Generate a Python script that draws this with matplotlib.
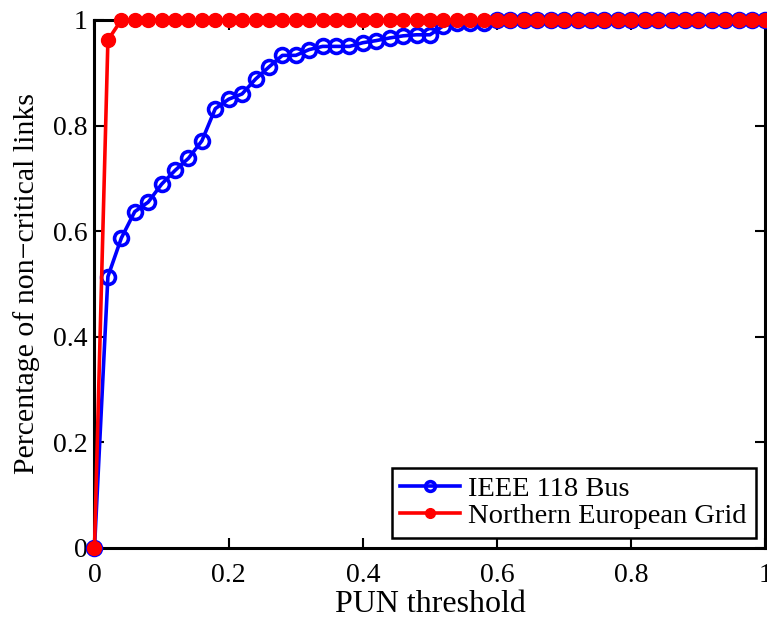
import matplotlib
matplotlib.use("Agg")
import matplotlib.pyplot as plt

# PUN threshold values
thresholds = [0.00, 0.02, 0.04, 0.06, 0.08, 0.10, 0.12, 0.14, 0.16, 0.18,
              0.20, 0.22, 0.24, 0.26, 0.28, 0.30, 0.32, 0.34, 0.36, 0.38,
              0.40, 0.42, 0.44, 0.46, 0.48, 0.50, 0.52, 0.54, 0.56, 0.58,
              0.60, 0.62, 0.64, 0.66, 0.68, 0.70, 0.72, 0.74, 0.76, 0.78,
              0.80, 0.82, 0.84, 0.86, 0.88, 0.90, 0.92, 0.94, 0.96, 0.98,
              1.00]

# Share of non-critical links, IEEE 118 bus system
ieee118 = [0.000, 0.514, 0.587, 0.637, 0.655, 0.689, 0.715, 0.738, 0.771, 0.832,
           0.850, 0.860, 0.888, 0.911, 0.933, 0.933, 0.944, 0.950, 0.950, 0.950,
           0.957, 0.961, 0.966, 0.970, 0.972, 0.972, 0.989, 0.994, 0.994, 0.994,
           1.0, 1.0, 1.0, 1.0, 1.0, 1.0, 1.0, 1.0, 1.0, 1.0,
           1.0, 1.0, 1.0, 1.0, 1.0, 1.0, 1.0, 1.0, 1.0, 1.0,
           1.0]

# Share of non-critical links, Northern European grid
nordic = [0.000, 0.962, 1.0, 1.0, 1.0, 1.0, 1.0, 1.0, 1.0, 1.0,
          1.0, 1.0, 1.0, 1.0, 1.0, 1.0, 1.0, 1.0, 1.0, 1.0,
          1.0, 1.0, 1.0, 1.0, 1.0, 1.0, 1.0, 1.0, 1.0, 1.0,
          1.0, 1.0, 1.0, 1.0, 1.0, 1.0, 1.0, 1.0, 1.0, 1.0,
          1.0, 1.0, 1.0, 1.0, 1.0, 1.0, 1.0, 1.0, 1.0, 1.0,
          1.0]

xticks = [0, 0.2, 0.4, 0.6, 0.8, 1]
xticklabels = ["0", "0.2", "0.4", "0.6", "0.8", "1"]
yticks = [0, 0.2, 0.4, 0.6, 0.8, 1]
yticklabels = ["0", "0.2", "0.4", "0.6", "0.8", "1"]

plt.rcParams["font.family"] = ["Liberation Serif", "DejaVu Serif"]

fig = plt.figure(figsize=(7.67, 6.21), dpi=100)
ax = fig.add_axes([0.1232, 0.1176, 0.8748, 0.8502])

ax.plot(thresholds, ieee118, color=(0, 0, 1), lw=2.6, marker="o",
        ms=10, mfc="none", mec=(0, 0, 1), mew=2.6, label="IEEE 118 Bus",
        clip_on=False, zorder=3)
ax.plot(thresholds, nordic, color=(1, 0, 0), lw=2.6, marker="o",
        ms=10, mfc=(1, 0, 0), mec=(1, 0, 0), mew=1,
        label="Northern European Grid", clip_on=False, zorder=4)

ax.set_xlim(0, 1)
ax.set_ylim(0, 1)
ax.set_xticks(xticks)
ax.set_xticklabels(xticklabels)
ax.set_yticks(yticks)
ax.set_yticklabels(yticklabels)

ax.tick_params(direction="in", length=7, width=1.5, labelsize=20,
               top=True, right=True)
ax.tick_params(axis="x", pad=11)
ax.tick_params(axis="y", pad=5)
for s in ax.spines.values():
    s.set_linewidth(2.2)

ax.set_xlabel("PUN threshold", fontsize=23, labelpad=1)
ax.set_ylabel("Percentage of non\u2212critical links", fontsize=21.5, labelpad=9)

leg = ax.legend(loc="lower right", fontsize=20.5, frameon=True, fancybox=False,
                edgecolor="black", framealpha=1, markerscale=0.7,
                handlelength=2.1, handletextpad=0.3, borderpad=0.3,
                labelspacing=0.05, borderaxespad=0.35,
                bbox_to_anchor=(1.0, 0.0))
leg.get_frame().set_linewidth(1.8)

fig.savefig("out.png", dpi=100)
